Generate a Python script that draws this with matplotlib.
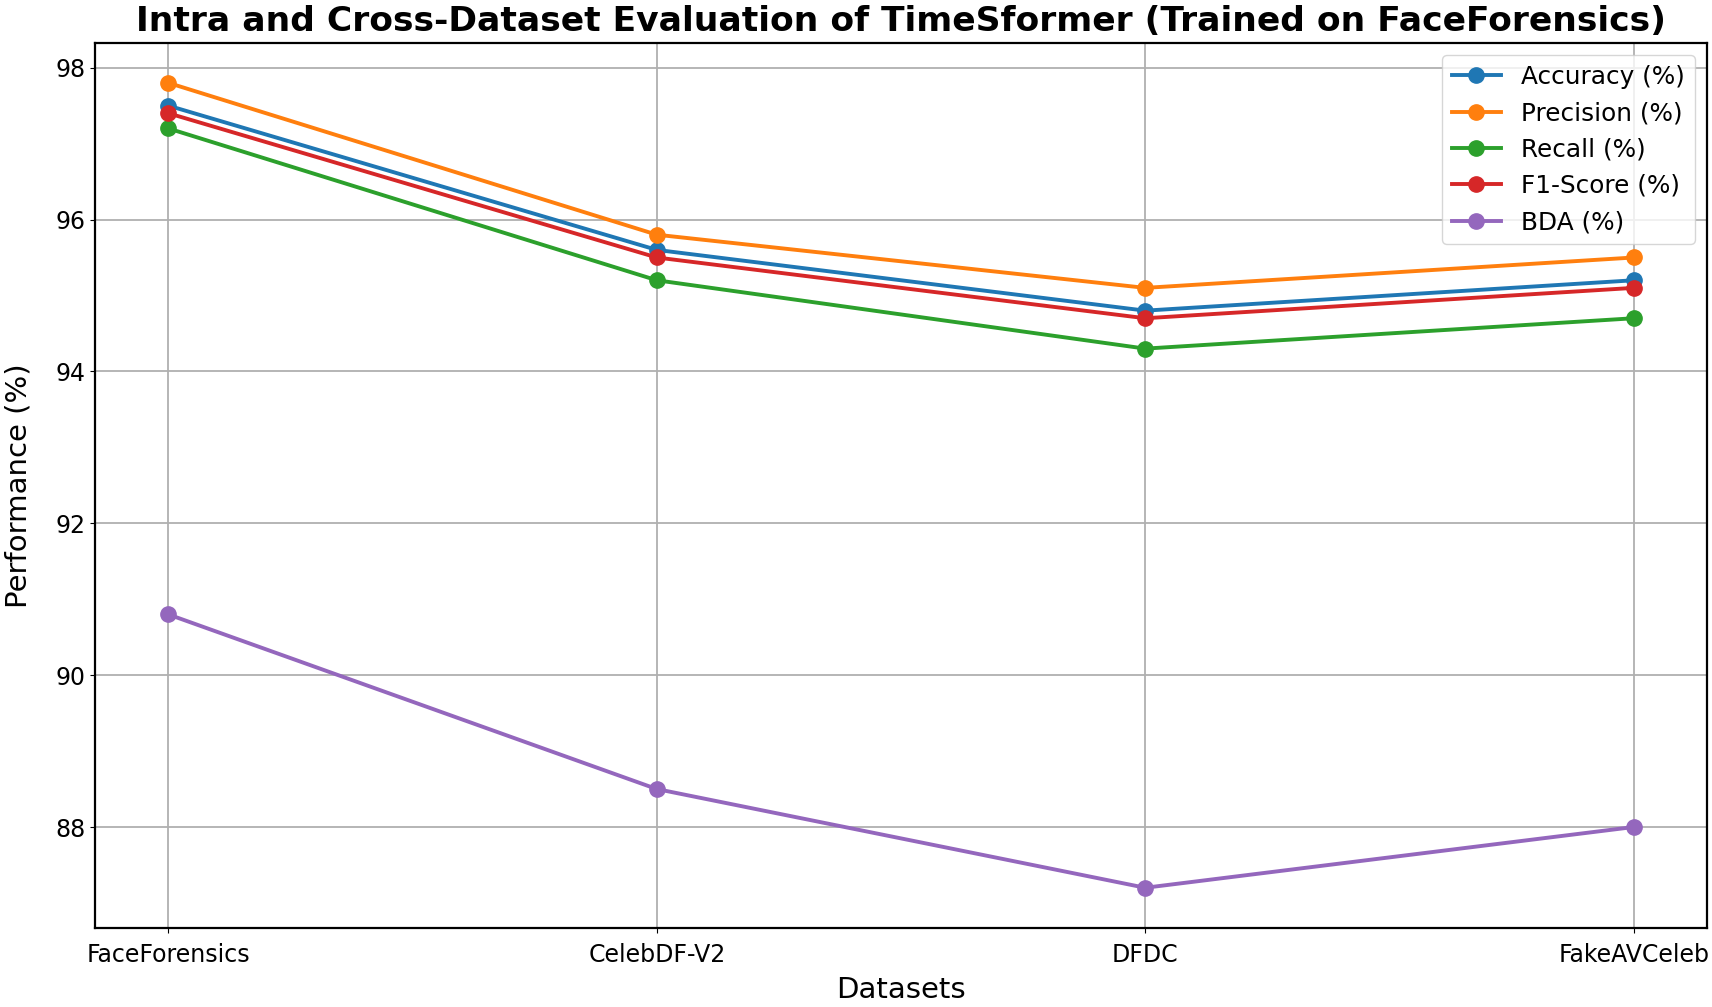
import matplotlib
matplotlib.use('Agg')
import matplotlib.pyplot as plt

datasets = ['FaceForensics', 'CelebDF-V2', 'DFDC', 'FakeAVCeleb']
accuracy = [97.5, 95.6, 94.8, 95.2]
precision = [97.8, 95.8, 95.1, 95.5]
recall = [97.2, 95.2, 94.3, 94.7]
f1_score = [97.4, 95.5, 94.7, 95.1]
bda = [90.8, 88.5, 87.2, 88.0]

series = [('Accuracy (%)', accuracy), ('Precision (%)', precision),
          ('Recall (%)', recall), ('F1-Score (%)', f1_score), ('BDA (%)', bda)]

fig = plt.figure(figsize=(17.12, 10.07), dpi=100)
ax = fig.add_axes([95 / 1712, 1 - 928 / 1007, (1707 - 95) / 1712, (928 - 42.6) / 1007])

for name, vals in series:
    ax.plot(datasets, vals, marker='o', linewidth=2.8, markersize=11, label=name)

ax.set_title('Intra and Cross-Dataset Evaluation of TimeSformer (Trained on FaceForensics)',
             fontsize=24.8, fontweight='bold', pad=8)
ax.set_xlabel('Datasets', fontsize=21, labelpad=7)
ax.set_ylabel('Performance (%)', fontsize=21, labelpad=16)
ax.tick_params(labelsize=17)
ax.tick_params(axis='x', pad=7)
ax.grid(True, color='#b0b0b0', linewidth=1.3)
for s in ax.spines.values():
    s.set_linewidth(1.6)
ax.legend(loc='upper right', fontsize=17.8)

fig.savefig('out.png', dpi=100)
